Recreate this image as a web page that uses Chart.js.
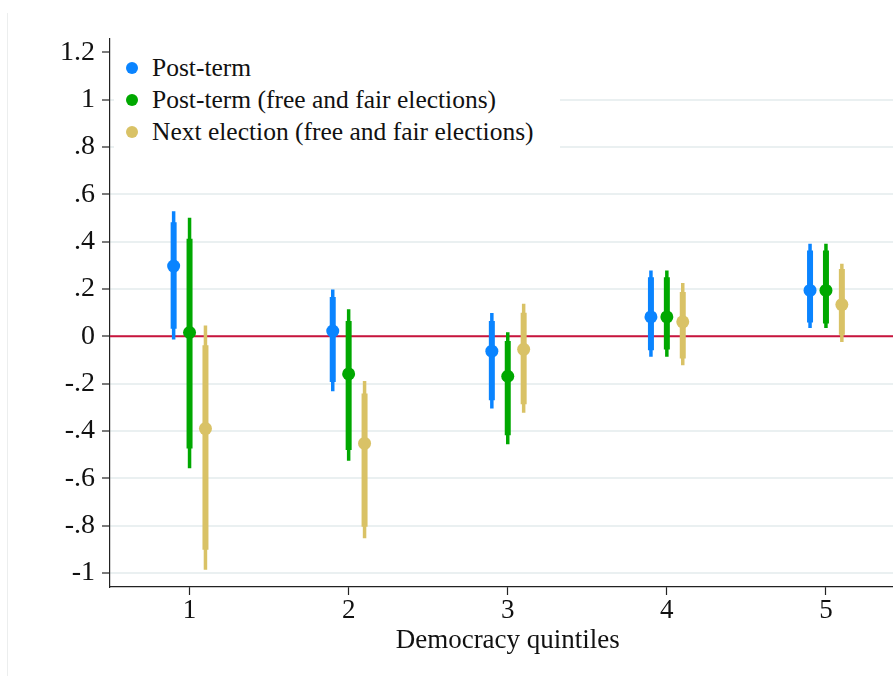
<!DOCTYPE html>
<html>
<head>
<meta charset="utf-8">
<script src="https://cdn.jsdelivr.net/npm/chart.js@4/dist/chart.umd.min.js"></script>
<style>
  html, body { margin: 0; padding: 0; background: #fff; overflow: hidden; }
  #wrap { position: relative; width: 893px; height: 676px; overflow: hidden; }
  #frame { position: absolute; left: 7px; top: 13px; bottom: 0; border-left: 1px solid #eceeee; }
  #grafico { position: absolute; left: 0; top: 0; }
  #legenda {
    position: absolute; left: 114px; top: 52px; width: 446px; height: 98px;
    background: #fff; font-family: "Liberation Serif", serif; font-size: 25.5px; color: #111;
  }
  .item { position: absolute; left: 0; height: 32px; line-height: 32px; white-space: nowrap; }
  .item i { position: absolute; left: 12px; top: 10px; width: 12px; height: 12px; border-radius: 50%; }
  .item span { position: absolute; left: 38px; }
</style>
</head>
<body>
<div id="wrap">
  <div id="frame"></div>
  <canvas id="grafico" width="912" height="676"></canvas>
  <div id="legenda"></div>
</div>
<script>
const quintis = [1, 2, 3, 4, 5];
const y_ticks = [1.2, 1, 0.8, 0.6, 0.4, 0.2, 0, -0.2, -0.4, -0.6, -0.8, -1];
const y_rotulos = ['1.2', '1', '.8', '.6', '.4', '.2', '0', '-.2', '-.4', '-.6', '-.8', '-1'];

const nomes = ['Post-term', 'Post-term (free and fair elections)', 'Next election (free and fair elections)'];
const cores = ['#0a84ff', '#00a800', '#d9c266'];
const deslocamentos = [-0.1, 0, 0.1];

// estimativas e intervalos (grosso = 90%, fino = 95%)
const pt_est  = [0.297, 0.022, -0.063, 0.082, 0.194];
const pt_lo90 = [0.032, -0.193, -0.270, -0.059, 0.058];
const pt_hi90 = [0.482, 0.166, 0.065, 0.250, 0.363];
const pt_lo95 = [-0.014, -0.232, -0.305, -0.087, 0.035];
const pt_hi95 = [0.529, 0.198, 0.098, 0.278, 0.391];

const ptf_est  = [0.016, -0.159, -0.169, 0.082, 0.194];
const ptf_lo90 = [-0.474, -0.481, -0.418, -0.056, 0.054];
const ptf_hi90 = [0.412, 0.065, -0.020, 0.250, 0.363];
const ptf_lo95 = [-0.558, -0.526, -0.456, -0.087, 0.035];
const ptf_hi95 = [0.501, 0.114, 0.017, 0.278, 0.391];

const ne_est  = [-0.390, -0.453, -0.055, 0.061, 0.134];
const ne_lo90 = [-0.903, -0.805, -0.287, -0.094, 0.007];
const ne_hi90 = [-0.038, -0.242, 0.100, 0.187, 0.285];
const ne_lo95 = [-0.987, -0.854, -0.323, -0.122, -0.024];
const ne_hi95 = [0.046, -0.189, 0.138, 0.225, 0.307];

const series = [
    {est: pt_est, lo90: pt_lo90, hi90: pt_hi90, lo95: pt_lo95, hi95: pt_hi95},
    {est: ptf_est, lo90: ptf_lo90, hi90: ptf_hi90, lo95: ptf_lo95, hi95: ptf_hi95},
    {est: ne_est, lo90: ne_lo90, hi90: ne_hi90, lo95: ne_lo95, hi95: ne_hi95}
];

const fonte = 'Liberation Serif';

function segmentos(s, k, lo, hi){
    let pts = [];
    quintis.forEach(function(q, i){
        let x = q + deslocamentos[k];
        pts.push({x: x, y: lo[i]}, {x: x, y: hi[i]}, {x: x, y: null});
    });
    return pts;
}

let datasets = [];

series.forEach(function(s, k){
    datasets.push({
        type: 'scatter',
        data: quintis.map((q, i) => ({x: q + deslocamentos[k], y: s.est[i]})),
        backgroundColor: cores[k],
        borderWidth: 0,
        pointRadius: 6.5,
        order: 0
    });
    datasets.push({
        type: 'line',
        data: segmentos(s, k, s.lo90, s.hi90),
        borderColor: cores[k],
        borderWidth: 6,
        borderCapStyle: 'butt',
        pointRadius: 0,
        spanGaps: false,
        order: 1
    });
    datasets.push({
        type: 'line',
        data: segmentos(s, k, s.lo95, s.hi95),
        borderColor: cores[k],
        borderWidth: 3.5,
        borderCapStyle: 'butt',
        pointRadius: 0,
        spanGaps: false,
        order: 2
    });
});

// linha de referência em zero
datasets.push({
    type: 'line',
    data: [{x: 0.5, y: 0}, {x: 5.5, y: 0}],
    borderColor: '#c8143c',
    borderWidth: 2,
    pointRadius: 0,
    order: 3
});

new Chart(document.getElementById('grafico'), {
    type: 'scatter',
    data: {datasets: datasets},
    options: {
        responsive: false,
        animation: false,
        devicePixelRatio: 1,
        layout: {padding: {top: 39, right: 1, left: 0, bottom: 0}},
        plugins: {legend: {display: false}, tooltip: {enabled: false}},
        scales: {
            x: {
                type: 'linear',
                min: 0.5,
                max: 5.5,
                afterBuildTicks: function(scale){ scale.ticks = quintis.map(v => ({value: v})); },
                afterFit: function(scale){ scale.height = 89; },
                border: {display: true, color: '#222', width: 1.2},
                grid: {drawOnChartArea: false, drawTicks: true, tickLength: 8, tickColor: '#222', tickWidth: 1.2},
                ticks: {
                    color: '#111', padding: 0, maxRotation: 0,
                    font: {family: fonte, size: 27},
                    callback: v => String(v)
                },
                title: {
                    display: true, text: 'Democracy quintiles', color: '#111',
                    font: {family: fonte, size: 27}, padding: {top: 0, bottom: 19}
                }
            },
            y: {
                type: 'linear',
                min: -1.06,
                max: 1.257,
                afterBuildTicks: function(scale){ scale.ticks = y_ticks.map(v => ({value: v})); },
                afterFit: function(scale){ scale.width = 110; },
                border: {display: true, color: '#222', width: 1.2},
                grid: {
                    drawTicks: true, tickLength: 8, tickColor: '#222', tickWidth: 1.2,
                    lineWidth: 2,
                    color: ctx => (ctx.tick && ctx.tick.value > 1.1) ? 'rgba(0,0,0,0)' : '#eaf0f1'
                },
                ticks: {
                    color: '#111', padding: 7,
                    font: {family: fonte, size: 28},
                    callback: function(v){
                        let i = y_ticks.findIndex(t => Math.abs(t - v) < 1e-9);
                        return i >= 0 ? y_rotulos[i] : '';
                    }
                }
            }
        }
    }
});

// legenda dentro do gráfico
const legenda = document.getElementById('legenda');
nomes.forEach(function(nome, k){
    let item = document.createElement('div');
    item.className = 'item';
    item.style.top = (k * 32) + 'px';
    item.innerHTML = '<i style="background:' + cores[k] + '"></i><span>' + nome + '</span>';
    legenda.appendChild(item);
});
</script>
</body>
</html>
